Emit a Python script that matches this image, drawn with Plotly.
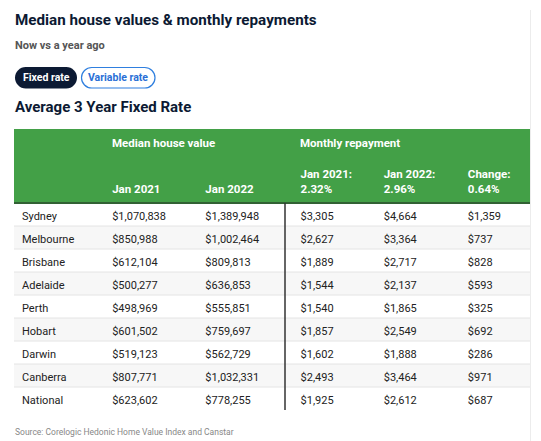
import plotly.graph_objects as go

# ---- data ----
cities = ["Sydney", "Melbourne", "Brisbane", "Adelaide", "Perth", "Hobart", "Darwin", "Canberra", "National"]
median_2021 = [1070838, 850988, 612104, 500277, 498969, 601502, 519123, 807771, 623602]
median_2022 = [1389948, 1002464, 809813, 636853, 555851, 759697, 562729, 1032331, 778255]
repay_2021 = [3305, 2627, 1889, 1544, 1540, 1857, 1602, 2493, 1925]
repay_2022 = [4664, 3364, 2717, 2137, 1865, 2549, 1888, 3464, 2612]
repay_change = [1359, 737, 828, 593, 325, 692, 286, 971, 687]
B = "\u00a0<br>"
header_labels = ["", B * 3 + "Jan 2021", B * 3 + "Jan 2022",
                 B * 2 + "Jan 2021:<br>2.32%", B * 2 + "Jan 2022:<br>2.96%", B * 2 + "Change:<br>0.64%"]
group_labels = ["Median house value", "Monthly repayment"]

W, H = 541, 441
FONT = "Roboto, sans-serif"
GREEN = "#43a047"
NAVY = "#0c1a33"

def money(v):
    return f"${v:,}"

col_widths = [90, 93, 95, 83, 84, 70]
tbl_left, tbl_right, tbl_top = 14, 530, 129
hdr_h, row_h = 74, 23

cells = [cities] + [[money(v) for v in col] for col in (median_2021, median_2022, repay_2021, repay_2022, repay_change)]
row_fill = ["#ffffff" if i % 2 == 0 else "#f7f7f7" for i in range(len(cities))]

fig = go.Figure(go.Table(
    domain=dict(x=[tbl_left / W, tbl_right / W], y=[0, 1 - tbl_top / H]),
    columnwidth=col_widths,
    header=dict(values=header_labels, fill_color=GREEN, height=hdr_h, align="left",
                line=dict(width=1, color=GREEN), font=dict(family=FONT, size=11.5, color="white", weight="bold")),
    cells=dict(values=cells, fill_color=[row_fill] * 6, height=row_h, align="left",
               line=dict(width=1, color=[row_fill] * 6), font=dict(family=FONT, size=11, color="#222222")),
))

def px(x):
    return x / W

def py(y):
    return 1 - y / H

shapes = []
shapes.append(dict(type="line", xref="paper", yref="paper", x0=px(530.5), x1=px(530.5), y0=py(10), y1=py(441),
                   line=dict(color="#ececec", width=1)))
body_top = tbl_top + hdr_h
n = len(cities)
for k in range(1, n):
    yy = body_top + k * row_h
    shapes.append(dict(type="line", xref="paper", yref="paper", x0=px(tbl_left), x1=px(tbl_right), y0=py(yy), y1=py(yy),
                       line=dict(color="#e4e4e4", width=1)))
shapes.append(dict(type="line", xref="paper", yref="paper", x0=px(tbl_left), x1=px(tbl_right), y0=py(body_top), y1=py(body_top),
                   line=dict(color="#222222", width=1.2)))
x_div = tbl_left + sum(col_widths[:3]) - 7
shapes.append(dict(type="line", xref="paper", yref="paper", x0=px(x_div), x1=px(x_div), y0=py(body_top), y1=py(body_top + n * row_h),
                   line=dict(color="#333333", width=1.5)))

def pill(x0, x1, y0, y1):
    r = (y1 - y0) / 2
    k = r * 0.55
    X0, X1 = px(x0 + r), px(x1 - r)
    return (f"M {X0},{py(y0)} L {X1},{py(y0)} C {px(x1 - r + k)},{py(y0)} {px(x1)},{py(y0 + r - k)} {px(x1)},{py(y0 + r)} "
            f"C {px(x1)},{py(y0 + r + k)} {px(x1 - r + k)},{py(y1)} {X1},{py(y1)} L {X0},{py(y1)} "
            f"C {px(x0 + r - k)},{py(y1)} {px(x0)},{py(y1 - r + k)} {px(x0)},{py(y0 + r)} "
            f"C {px(x0)},{py(y0 + r - k)} {px(x0 + r - k)},{py(y0)} {X0},{py(y0)} Z")

shapes.append(dict(type="path", xref="paper", yref="paper", path=pill(15, 77, 67, 88.5), fillcolor=NAVY, line=dict(width=0)))
shapes.append(dict(type="path", xref="paper", yref="paper", path=pill(81.5, 155, 67.5, 88), fillcolor="white",
                   line=dict(color="#2f7fdf", width=1.2)))

ann = []
def text(x, y, s, size, color, weight="normal", xanchor="left"):
    ann.append(dict(x=px(x), y=py(y), xref="paper", yref="paper", text=s, showarrow=False, xanchor=xanchor, yanchor="middle",
                    font=dict(family=FONT, size=size, color=color, weight=weight)))

text(13, 20, "Median house values &amp; monthly repayments", 15.2, NAVY, "bold")
text(13, 45, "Now vs a year ago", 11, "#555555", "bold")
text(46, 78, "Fixed rate", 10.5, "white", "bold", "center")
text(118, 78, "Variable rate", 10.5, "#2a6fd6", "bold", "center")
text(13, 107, "Average 3 Year Fixed Rate", 15, NAVY, "bold")
text(tbl_left + col_widths[0] + 6, 143, group_labels[0], 11.5, "white", "bold")
text(tbl_left + sum(col_widths[:3]) + 6, 143, group_labels[1], 11.5, "white", "bold")
text(13, 432, "Source: Corelogic Hedonic Home Value Index and Canstar", 8.5, "#888888")

fig.update_layout(width=W, height=H, margin=dict(l=0, r=0, t=0, b=0), paper_bgcolor="white",
                  shapes=shapes, annotations=ann, font=dict(family=FONT))
fig.write_html("out.html", config={"displayModeBar": False}, post_script="document.body.style.margin='0';")
